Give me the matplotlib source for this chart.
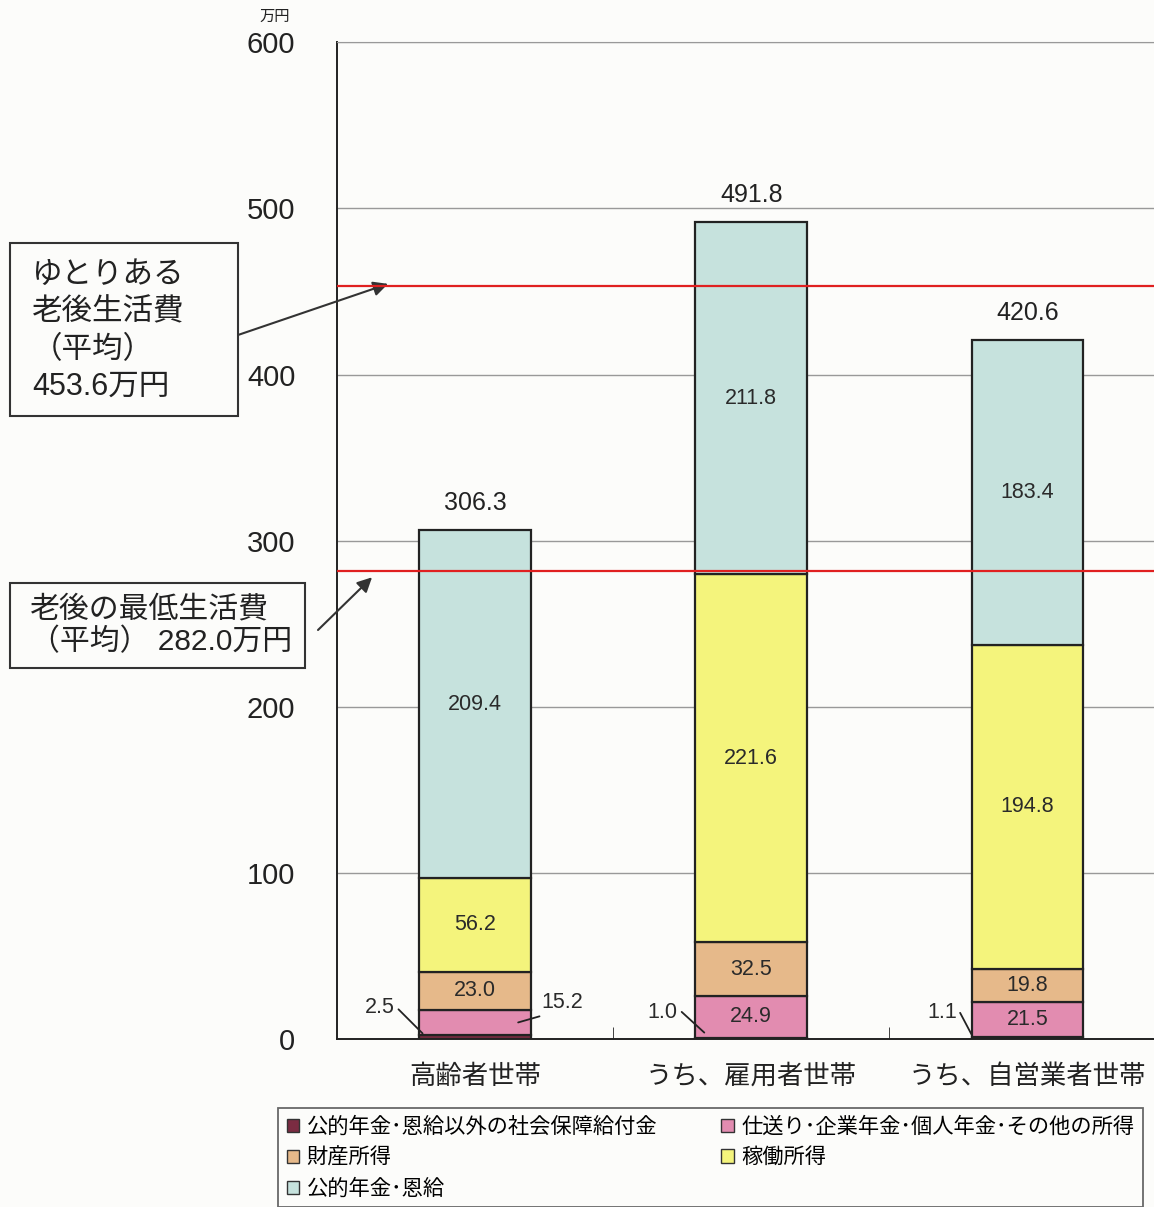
import numpy as np
import matplotlib.pyplot as plt
from matplotlib.patches import Rectangle, Patch

plt.rcParams['font.family'] = ['Liberation Sans', 'Noto Sans CJK JP', 'DejaVu Sans']

categories = ['高齢者世帯', 'うち、雇用者世帯', 'うち、自営業者世帯']
series_names = ['公的年金･恩給以外の社会保障給付金',
                '仕送り･企業年金･個人年金･その他の所得',
                '財産所得', '稼働所得', '公的年金･恩給']
social = [2.5, 1.0, 1.1]
remit = [15.2, 24.9, 21.5]
property_inc = [23.0, 32.5, 19.8]
earned = [56.2, 221.6, 194.8]
pension = [209.4, 211.8, 183.4]
totals = [306.3, 491.8, 420.6]
comfortable = 453.6
minimum = 282.0

colors = ['#7b2c42', '#e28cb0', '#e6b98a', '#f4f47c', '#c6e2dd']
txt = '#2a2a2a'

fig = plt.figure(figsize=(11.54, 12.07), dpi=100)
fig.patch.set_facecolor('#fcfcfa')
ax = fig.add_axes([0.292, 0.139, 0.718, 0.826])
ax.set_facecolor('#fcfcfa')

x = np.arange(len(categories))
width = 0.405
series = [social, remit, property_inc, earned, pension]
bottom = np.zeros(len(categories))
for vals, c in zip(series, colors):
    ax.bar(x, vals, width, bottom=bottom, color=c, edgecolor='#222222',
           linewidth=1.6, zorder=3)
    bottom += np.array(vals)

# segment labels
bottom = np.zeros(len(categories))
for k, vals in enumerate(series):
    for i, v in enumerate(vals):
        if k >= 2 or (k == 1 and i > 0):
            ax.text(x[i], bottom[i] + v / 2, f'{v:.1f}', ha='center',
                    va='center', fontsize=15.5, color=txt, zorder=4)
    bottom += np.array(vals)

# small values with leader lines
lead = dict(arrowstyle='-', color='#222222', lw=1.3, shrinkA=1, shrinkB=0)
ax.annotate(f'{social[0]:.1f}', xy=(x[0] - 0.19, social[0] + 1), xytext=(x[0] - 0.345, 19),
            ha='center', va='center', fontsize=15.5, color=txt,
            arrowprops=dict(lead, relpos=(1.0, 0.6)))
ax.annotate(f'{remit[0]:.1f}', xy=(x[0] + 0.156, social[0] + remit[0] * 0.5), xytext=(x[0] + 0.315, 22),
            ha='center', va='center', fontsize=15.5, color=txt,
            arrowprops=dict(lead, relpos=(0.4, 0.1)))
ax.annotate(f'{social[1]:.1f}', xy=(x[1] - 0.17, social[1] + 3), xytext=(x[1] - 0.32, 16),
            ha='center', va='center', fontsize=15.5, color=txt,
            arrowprops=dict(lead, relpos=(1.0, 0.7)))
ax.annotate(f'{social[2]:.1f}', xy=(x[2] - 0.2, social[2] + 1), xytext=(x[2] - 0.31, 16),
            ha='center', va='center', fontsize=15.5, color=txt,
            arrowprops=dict(lead, relpos=(1.0, 0.8)))

# totals
for i, t in enumerate(totals):
    ax.annotate(f'{t:.1f}', xy=(x[i], t), xytext=(0, 11), textcoords='offset points',
                ha='center', va='bottom', fontsize=18, color='#222222')

# reference lines
ax.axhline(comfortable, color='#e02020', lw=1.6, zorder=5)
ax.axhline(minimum, color='#e02020', lw=1.6, zorder=5)

ax.set_xlim(-0.5, 2.5)
ax.set_ylim(0, 600)
ax.set_yticks(np.arange(0, 601, 100))
ax.yaxis.grid(True, color='#999999', lw=1.0, zorder=0)
ax.tick_params(axis='y', length=0, pad=30, labelsize=21, labelcolor='#222222')
ax.set_xticks(x)
ax.set_xticklabels(categories, fontsize=19, color='#222222')
ax.tick_params(axis='x', length=0, pad=18)
ax.set_xticks([0.5, 1.5], minor=True)
ax.tick_params(axis='x', which='minor', direction='in', length=9, color='#222222')
ax.spines['right'].set_visible(False)
ax.spines['top'].set_color('#999999')
ax.spines['left'].set_color('#222222')
ax.spines['left'].set_linewidth(1.4)
ax.spines['bottom'].set_color('#222222')
ax.spines['bottom'].set_linewidth(1.4)

W, H = 1154, 1207
fig.text(275 / W, 1 - 17 / H, '万円', fontsize=11, ha='center', va='center', color='#222222')

# callout boxes
def px_box(x0, y0, x1, y1):
    fig.patches.append(Rectangle((x0 / W, 1 - y1 / H), (x1 - x0) / W, (y1 - y0) / H,
                                 transform=fig.transFigure, fill=True, facecolor='#fcfcfa',
                                 edgecolor='#333333', lw=1.5, zorder=10))

px_box(10, 243, 238, 416)
fig.text(32 / W, 1 - 331 / H, 'ゆとりある\n老後生活費\n（平均）\n453.6万円', fontsize=22,
         ha='left', va='center', linespacing=1.32, color='#222222', zorder=11)
px_box(10, 583, 305, 668)
fig.text(30 / W, 1 - 626 / H, '老後の最低生活費\n（平均） 282.0万円', fontsize=21.5,
         ha='left', va='center', linespacing=1.18, color='#222222', zorder=11)

ax.annotate('', xy=(-0.315, comfortable + 1), xycoords='data',
            xytext=(238 / W, 1 - 335 / H), textcoords='figure fraction',
            arrowprops=dict(arrowstyle='-|>', color='#333333', lw=1.5, mutation_scale=22,
                            shrinkA=0, shrinkB=0), annotation_clip=False)
ax.annotate('', xy=(-0.373, minimum - 4), xycoords='data',
            xytext=(318 / W, 1 - 630 / H), textcoords='figure fraction',
            arrowprops=dict(arrowstyle='-|>', color='#333333', lw=1.5, mutation_scale=22,
                            shrinkA=0, shrinkB=0), annotation_clip=False)

# legend
handles = [Patch(facecolor=c, edgecolor='#333333', lw=1.0) for c in colors]
order = [0, 2, 4, 1, 3]
leg = fig.legend([handles[i] for i in order], [series_names[i] for i in order],
                 ncol=2, loc='upper left', bbox_to_anchor=(278 / W, 1 - 1108 / H),
                 fontsize=15.3, frameon=True, fancybox=False, edgecolor='#444444',
                 handlelength=0.6, handleheight=0.6, handletextpad=0.35,
                 columnspacing=3.0, labelspacing=0.5, borderpad=0.4, borderaxespad=0)
leg.get_frame().set_linewidth(1.3)
leg.get_frame().set_facecolor('#fcfcfa')

fig.savefig('out.png', dpi=100, facecolor=fig.get_facecolor())
